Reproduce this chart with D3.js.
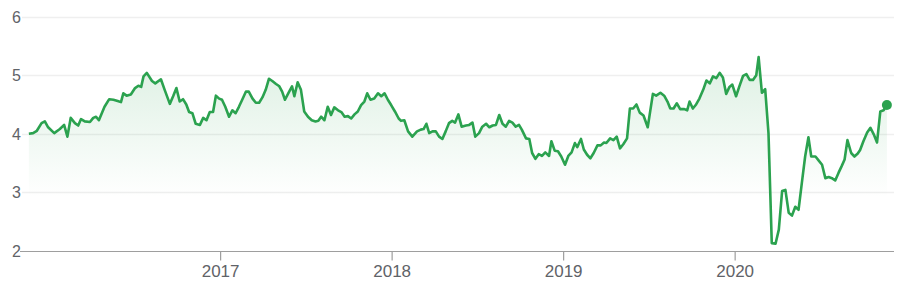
<!DOCTYPE html>
<html>
<head>
<meta charset="utf-8">
<script src="https://cdn.jsdelivr.net/npm/d3@7"></script>
<style>
  html, body { margin: 0; padding: 0; background: #fff; }
  svg { display: block; }
  text { font-family: Arial, "Liberation Sans", sans-serif; }
</style>
</head>
<body>
<svg id="chart" width="906" height="288"></svg>
<script>
// ---- data ----
const startDate = "2015-11-20";
const dayOffsets = [
  1,10,18,28,35,42,55,67,76,83,90,99,106,112,120,131,138,144,150,162,
  172,181,190,197,202,209,218,227,234,240,245,252,263,270,282,290,301,308,315,322,
  329,336,342,349,356,365,372,379,386,393,399,406,412,419,427,434,441,448,455,463,
  469,477,484,491,498,505,512,519,527,534,540,546,553,561,566,573,580,587,595,603,
  611,617,623,630,637,644,651,659,666,673,680,687,694,701,708,715,721,728,736,744,
  751,758,765,772,780,788,793,800,808,817,827,835,841,847,853,860,867,874,881,888,
  895,902,908,915,922,931,938,945,951,959,966,974,981,988,995,1002,1009,1016,1023,1030,
  1037,1044,1050,1059,1066,1072,1079,1086,1093,1100,1108,1113,1120,1127,1134,1142,1149,1156,1163,1168,
  1176,1182,1189,1196,1203,1211,1218,1225,1230,1238,1245,1252,1259,1266,1274,1280,1287,1294,1301,1309,
  1318,1329,1336,1345,1353,1360,1366,1373,1380,1387,1396,1402,1407,1414,1421,1428,1436,1443,1450,1457,
  1464,1471,1478,1485,1492,1498,1506,1513,1521,1528,1535,1542,1549,1554,1561,1568,1575,1582,1590,1597,
  1604,1611,1618,1625,1632,1639,1646,1653,1660,1666,1675,1682,1689,1696,1703,1710,1717,1724,1731,1737,
  1743,1751,1758,1765,1770,1777,1785,1792,1799,1806,1813,1820,1827
];
const prices = [
  4.00,4.01,4.05,4.18,4.21,4.11,4.01,4.08,4.15,3.95,4.27,4.18,4.14,4.25,4.21,4.20,4.27,4.29,4.23,4.46,
  4.59,4.58,4.56,4.54,4.69,4.65,4.67,4.78,4.82,4.80,4.98,5.04,4.90,4.86,4.93,4.75,4.51,4.64,4.78,4.55,
  4.59,4.50,4.37,4.35,4.17,4.15,4.27,4.23,4.37,4.37,4.65,4.60,4.58,4.46,4.29,4.40,4.35,4.46,4.58,4.72,
  4.72,4.60,4.53,4.53,4.62,4.75,4.94,4.90,4.85,4.81,4.72,4.58,4.69,4.81,4.64,4.88,4.75,4.38,4.29,4.23,
  4.21,4.22,4.29,4.23,4.46,4.32,4.45,4.40,4.37,4.29,4.30,4.26,4.33,4.38,4.49,4.55,4.69,4.58,4.60,4.69,
  4.64,4.69,4.58,4.49,4.38,4.26,4.22,4.23,4.04,3.95,4.04,4.07,4.08,4.17,4.01,4.04,4.04,3.95,3.91,4.04,
  4.18,4.22,4.19,4.33,4.12,4.14,4.15,4.19,3.95,4.01,4.12,4.17,4.11,4.14,4.15,4.32,4.17,4.12,4.22,4.19,
  4.12,4.15,4.07,3.92,3.91,3.67,3.57,3.65,3.62,3.68,3.62,3.87,3.71,3.70,3.61,3.47,3.62,3.68,3.84,3.77,
  3.91,3.73,3.64,3.58,3.67,3.80,3.80,3.85,3.84,3.92,3.89,3.95,3.75,3.82,3.92,4.43,4.43,4.50,4.36,4.31,
  4.11,4.68,4.65,4.70,4.65,4.55,4.43,4.43,4.52,4.42,4.42,4.40,4.55,4.43,4.50,4.60,4.75,4.91,4.86,4.98,
  4.95,5.04,4.96,4.68,4.80,4.84,4.64,4.81,4.99,5.02,4.92,4.92,5.00,5.31,4.70,4.76,4.01,2.13,2.12,2.36,
  3.02,3.04,2.65,2.60,2.75,2.70,3.16,3.61,3.94,3.61,3.61,3.54,3.47,3.24,3.26,3.24,3.20,3.33,3.45,3.56,
  3.89,3.67,3.61,3.66,3.72,3.87,4.02,4.10,3.99,3.85,4.38,4.40,4.49
];
const yTicks = [2, 3, 4, 5, 6];
const yDomain = [2, 6];

// ---- layout ----
const W = 906, H = 288;
const plotLeft = 28.4, plotRight = 886.9;
const axisLeft = 20, axisRight = 894;
const yTop = 16.7, yBottom = 250.7;
const lineColor = "#2ba24f";

const start = d3.utcParse("%Y-%m-%d")(startDate);
const data = dayOffsets.map((d, i) => ({ date: d3.utcDay.offset(start, d), value: prices[i] }));

const x = d3.scaleUtc()
  .domain([start, d3.utcDay.offset(start, 1827)])
  .range([plotLeft, plotRight]);
const y = d3.scaleLinear().domain(yDomain).range([yBottom, yTop]);

const svg = d3.select("#chart");

// gradient
const defs = svg.append("defs");
const grad = defs.append("linearGradient")
  .attr("id", "fillGrad")
  .attr("gradientUnits", "userSpaceOnUse")
  .attr("x1", 0).attr("x2", 0)
  .attr("y1", y(5.3)).attr("y2", y(2.9));
grad.append("stop").attr("offset", 0).attr("stop-color", lineColor).attr("stop-opacity", 0.16);
grad.append("stop").attr("offset", 1).attr("stop-color", lineColor).attr("stop-opacity", 0.0);

// gridlines
svg.append("g")
  .selectAll("line")
  .data(yTicks.filter(t => t !== yDomain[0]))
  .join("line")
  .attr("x1", 22).attr("x2", axisRight)
  .attr("y1", d => Math.round(y(d)) + 0.5).attr("y2", d => Math.round(y(d)) + 0.5)
  .attr("stroke", "#efefef").attr("stroke-width", 1.5);

// area
const area = d3.area()
  .x(d => x(d.date))
  .y0(y(yDomain[0]))
  .y1(d => y(d.value));
svg.append("path")
  .datum(data)
  .attr("d", area)
  .attr("fill", "url(#fillGrad)");

// y labels
svg.append("g")
  .selectAll("text")
  .data(yTicks)
  .join("text")
  .attr("x", 21)
  .attr("y", d => y(d) + 6)
  .attr("text-anchor", "end")
  .attr("font-size", 16)
  .attr("fill", "#5f6368")
  .text(d => d);

// x axis baseline
svg.append("line")
  .attr("x1", axisLeft).attr("x2", axisRight)
  .attr("y1", Math.round(yBottom) + 0.5).attr("y2", Math.round(yBottom) + 0.5)
  .attr("stroke", "#9e9e9e").attr("stroke-width", 1.2);

// x ticks via axis
const xAxis = d3.axisBottom(x)
  .ticks(d3.utcYear.every(1))
  .tickFormat(d3.utcFormat("%Y"))
  .tickSize(9)
  .tickPadding(4);
const gx = svg.append("g")
  .attr("transform", `translate(0,${Math.round(yBottom) + 0.5})`)
  .call(xAxis);
gx.select(".domain").remove();
gx.selectAll(".tick line").attr("stroke", "#9e9e9e").attr("stroke-width", 1.2);
gx.selectAll(".tick text")
  .attr("font-size", 17)
  .attr("font-family", "Arial, 'Liberation Sans', sans-serif")
  .attr("fill", "#5f6368");
gx.selectAll(".tick").filter(d => x(d) < 60).remove();

// line
const line = d3.line()
  .x(d => x(d.date))
  .y(d => y(d.value));
svg.append("path")
  .datum(data)
  .attr("d", line)
  .attr("fill", "none")
  .attr("stroke", lineColor)
  .attr("stroke-width", 2.6)
  .attr("stroke-linejoin", "round");

// end dot
const last = data[data.length - 1];
svg.append("circle")
  .attr("cx", x(last.date))
  .attr("cy", y(last.value))
  .attr("r", 5)
  .attr("fill", lineColor);
</script>
</body>
</html>
